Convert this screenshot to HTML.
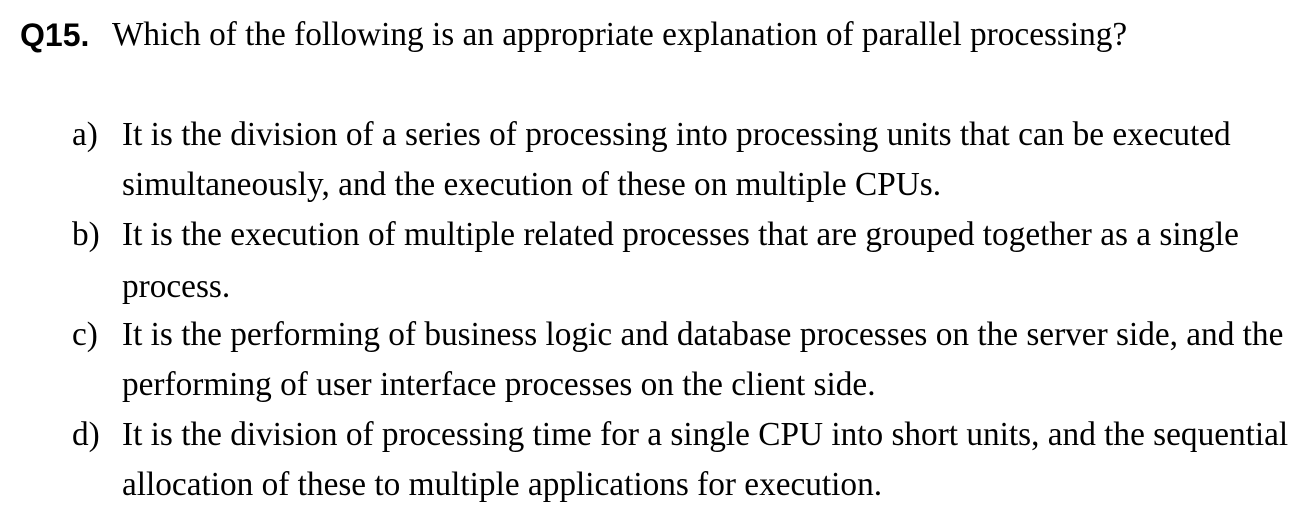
<!DOCTYPE html>
<html><head><meta charset="utf-8"><style>
body{margin:0;width:1308px;height:522px;background:#fff;position:relative;overflow:hidden;font-family:"Liberation Serif",serif;font-size:33.3px;color:#000}
.l{position:absolute;line-height:50px;white-space:nowrap}
.q{position:absolute;left:20px;top:10px;line-height:50px;font-family:"Liberation Sans",sans-serif;font-weight:bold;font-size:32px}
</style></head><body>
<div class="q">Q15.</div>
<div class="l" style="left:112px;top:10px">Which of the following is an appropriate explanation of parallel processing?</div>
<div class="l" style="left:72px;top:110px">a)</div>
<div class="l" style="left:122px;top:110px">It is the division of a series of processing into processing units that can be executed</div>
<div class="l" style="left:122px;top:160px">simultaneously, and the execution of these on multiple CPUs.</div>
<div class="l" style="left:72px;top:210px">b)</div>
<div class="l" style="left:122px;top:210px">It is the execution of multiple related processes that are grouped together as a single</div>
<div class="l" style="left:122px;top:262px">process.</div>
<div class="l" style="left:72px;top:310px">c)</div>
<div class="l" style="left:122px;top:310px">It is the performing of business logic and database processes on the server side, and the</div>
<div class="l" style="left:122px;top:360px">performing of user interface processes on the client side.</div>
<div class="l" style="left:72px;top:410px">d)</div>
<div class="l" style="left:122px;top:410px">It is the division of processing time for a single CPU into short units, and the sequential</div>
<div class="l" style="left:122px;top:460px">allocation of these to multiple applications for execution.</div>
</body></html>
